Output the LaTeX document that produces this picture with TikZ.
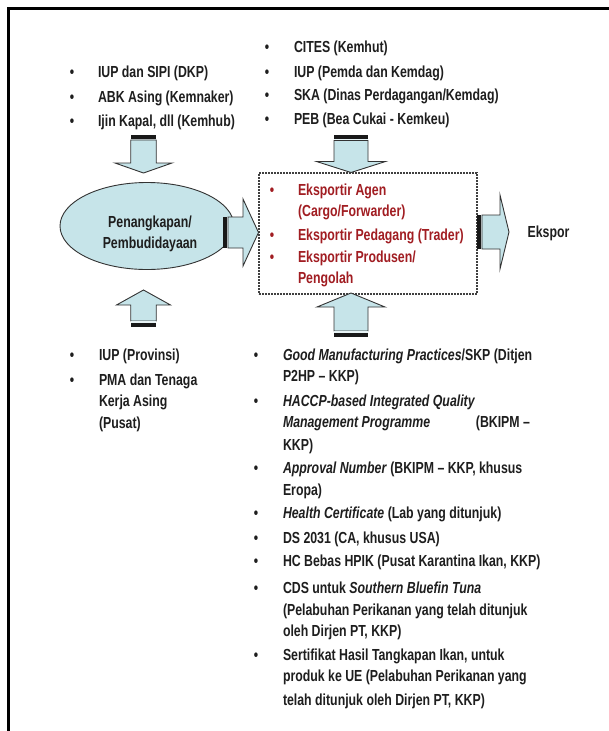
\documentclass[tikz,border=0pt]{standalone}
\usepackage{fontspec}
\newfontfamily\nar{Liberation Sans}[FakeStretch=0.77]
\usetikzlibrary{shapes.geometric}
\definecolor{fillc}{HTML}{C6E4E9}
\definecolor{redt}{HTML}{A11D22}
\definecolor{txt}{HTML}{1E1E1E}
\begin{document}
\begin{tikzpicture}[x=1pt,y=-1pt,
  every node/.style={inner sep=0pt, outer sep=0pt},
  lbl/.style={font=\nar\bfseries\fontsize{16}{18}\selectfont, text=txt, anchor=base west},
  bul/.style={font=\nar\bfseries\fontsize{16}{18}\selectfont, text=txt, anchor=base},
  rlbl/.style={lbl, text=redt},
  rbul/.style={bul, text=redt},
  blk/.style={draw=black!80, fill=fillc, line width=0.9pt, line join=miter},
  stripe/.style={fill=black!90},
  gapc/.style={fill=white!60!fillc},
]
\useasboundingbox (0,0) rectangle (609,731);
\fill[white] (0,0) rectangle (609,731);
% frame
\draw[line width=3pt] (8.5,731) -- (8.5,8.5) -- (609,8.5);

% ellipse
\node[ellipse, draw=black!80, fill=fillc, line width=0.9pt, minimum width=174pt, minimum height=87pt] (ell) at (147,226) {};
\node[bul, text=txt] (pen1) at (150,227) {Penangkapan/};
\node[bul, text=txt] (pen2) at (150,248) {Pembudidayaan};

% dashed box
\node[draw=black!75, line width=1.1pt, dash pattern=on 1.6pt off 1.4pt, minimum width=218pt, minimum height=121pt] (box) at (368,233.5) {};

% top-left down arrow (cx 143.5)
\fill[stripe] (130.75,135) rectangle (156.25,138.5);
\fill[gapc] (130.75,138.5) rectangle (156.25,140);
\draw[blk] (130.75,140) -- (156.25,140) -- (156.25,163) -- (172,163) -- (143.5,173) -- (115,163) -- (130.75,163) -- cycle;

% top-middle down arrow (cx 351)
\fill[stripe] (334,135) rectangle (368,139);
\fill[gapc] (334,139) rectangle (368,140.5);
\draw[blk] (334,140.5) -- (368,140.5) -- (368,161.5) -- (385.5,161.5) -- (351,172.5) -- (316.5,161.5) -- (334,161.5) -- cycle;

% bottom-left up arrow
\draw[blk] (130.75,321) -- (156.25,321) -- (156.25,305) -- (170.5,305) -- (143.5,290) -- (116.5,305) -- (130.75,305) -- cycle;
\fill[gapc] (130.75,321.4) rectangle (156.25,322.6);
\fill[stripe] (130.75,322.6) rectangle (156.25,326.5);

% bottom-middle up arrow
\draw[blk] (334,331) -- (368,331) -- (368,307) -- (385,307) -- (351,293) -- (317,307) -- (334,307) -- cycle;
\fill[gapc] (334,331.4) rectangle (368,332.6);
\fill[stripe] (334,332.6) rectangle (368,336.5);

% right arrow 1 (ellipse -> box)
\fill[stripe] (223,217) rectangle (226.5,248);
\fill[gapc] (226.5,217) rectangle (228,248);
\draw[blk] (228,217) -- (243,217) -- (243,199) -- (258.5,232.5) -- (243,266) -- (243,248) -- (228,248) -- cycle;

% right arrow 2 (box -> Ekspor)
\fill[stripe] (477,215) rectangle (480.5,249);
\fill[gapc] (480.5,215) rectangle (482,249);
\draw[blk] (482,215) -- (500,215) -- (500,195) -- (509,232) -- (500,269) -- (500,249) -- (482,249) -- cycle;

\node[bul] (eks) at (548.5,237) {Ekspor};

% top-left list
\node[bul] (tlb1) at (72,77) {•};  \node[lbl] (tl1) at (98,77) {IUP dan SIPI (DKP)};
\node[bul] (tlb2) at (72,102) {•}; \node[lbl] (tl2) at (98,102) {ABK Asing (Kemnaker)};
\node[bul] (tlb3) at (72,126) {•}; \node[lbl] (tl3) at (98,126) {Ijin Kapal, dll (Kemhub)};

% top-middle list
\node[bul] (tmb1) at (267,52) {•};  \node[lbl] (tm1) at (294,52) {CITES (Kemhut)};
\node[bul] (tmb2) at (267,77) {•};  \node[lbl] (tm2) at (294,77) {IUP (Pemda dan Kemdag)};
\node[bul] (tmb3) at (267,100) {•}; \node[lbl] (tm3) at (294,100) {SKA (Dinas Perdagangan/Kemdag)};
\node[bul] (tmb4) at (267,124) {•}; \node[lbl] (tm4) at (294,124) {PEB (Bea Cukai - Kemkeu)};

% red list
\node[rbul] (rb1) at (272,195.5) {•}; \node[rlbl] (r1) at (298,195.5) {Eksportir Agen};
\node[rlbl] (r2) at (298,216.7) {(Cargo/Forwarder)};
\node[rbul] (rb3) at (272,240) {•}; \node[rlbl] (r3) at (298,240) {Eksportir Pedagang (Trader)};
\node[rbul] (rb4) at (272,262) {•}; \node[rlbl] (r4) at (298,262) {Eksportir Produsen/};
\node[rlbl] (r5) at (298,283) {Pengolah};

% bottom-left list
\node[bul] (blb1) at (72,360) {•}; \node[lbl] (bl1) at (99,360) {IUP (Provinsi)};
\node[bul] (blb2) at (72,385) {•}; \node[lbl] (bl2) at (99,385) {PMA dan Tenaga};
\node[lbl] (bl3) at (99,406.7) {Kerja Asing};
\node[lbl] (bl4) at (99,428.3) {(Pusat)};

% bottom-right list
\node[bul] (brb1) at (256,360) {•};   \node[lbl] (br1) at (283,360) {\textit{Good Manufacturing Practices}/SKP (Ditjen};
\node[lbl] (br2) at (283,381.7) {P2HP – KKP)};
\node[bul] (brb3) at (256,406.7) {•}; \node[lbl] (br3) at (283,406.7) {\textit{HACCP-based Integrated Quality}};
\node[lbl] (br4) at (283,427.7) {\hbox to 247pt{\textit{Management Programme}\hfill(BKIPM –}};
\node[lbl] (br5) at (283,450) {KKP)};
\node[bul] (brb6) at (256,473) {•};   \node[lbl] (br6) at (283,473) {\textit{Approval Number} (BKIPM – KKP, khusus};
\node[lbl] (br7) at (283,495) {Eropa)};
\node[bul] (brb8) at (256,518) {•};   \node[lbl] (br8) at (283,518) {\textit{Health Certificate} (Lab yang ditunjuk)};
\node[bul] (brb9) at (256,543) {•};   \node[lbl] (br9) at (283,543) {DS 2031 (CA, khusus USA)};
\node[bul] (brb10) at (256,566.7) {•}; \node[lbl] (br10) at (283,566.7) {HC Bebas HPIK (Pusat Karantina Ikan, KKP)};
\node[bul] (brb11) at (256,593) {•};  \node[lbl] (br11) at (283,593) {CDS untuk \textit{Southern Bluefin Tuna}};
\node[lbl] (br12) at (283,615) {(Pelabuhan Perikanan yang telah ditunjuk};
\node[lbl] (br13) at (283,636.7) {oleh Dirjen PT, KKP)};
\node[bul] (brb14) at (256,660) {•};  \node[lbl] (br14) at (283,660) {Sertifikat Hasil Tangkapan Ikan, untuk};
\node[lbl] (br15) at (283,681.7) {produk ke UE (Pelabuhan Perikanan yang};
\node[lbl] (br16) at (283,705) {telah ditunjuk oleh Dirjen PT, KKP)};
\end{tikzpicture}
\end{document}
